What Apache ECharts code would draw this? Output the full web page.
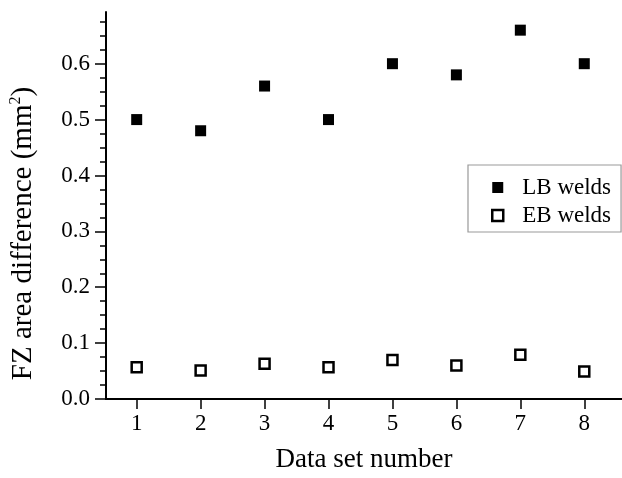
<!DOCTYPE html>
<html>
<head>
<meta charset="utf-8">
<script src="https://cdn.jsdelivr.net/npm/echarts@6/dist/echarts.min.js"></script>
<style>html,body{margin:0;padding:0;background:#fff}#c{width:622px;height:478px}</style>
</head>
<body>
<div id="c"></div>
<script>
var dataSets = [1, 2, 3, 4, 5, 6, 7, 8];
var lbWelds = [0.50, 0.48, 0.56, 0.50, 0.60, 0.58, 0.66, 0.60];
var ebWelds = [0.057, 0.051, 0.063, 0.057, 0.070, 0.060, 0.079, 0.049];
var xTicks = [1, 2, 3, 4, 5, 6, 7, 8];
var yTicks = [0, 0.1, 0.2, 0.3, 0.4, 0.5, 0.6];
var yMinorTicks = [0.025, 0.05, 0.075, 0.125, 0.15, 0.175, 0.225, 0.25, 0.275, 0.325, 0.35, 0.375, 0.425, 0.45, 0.475, 0.525, 0.55, 0.575, 0.625, 0.65, 0.675];

var font = 'Liberation Serif';
var chart = echarts.init(document.getElementById('c'), null, {renderer: 'canvas'});
var xMin = 0.52, xMax = 8.59, yMin = 0, yMax = 0.6925;
chart.setOption({
  animation: false,
  backgroundColor: '#fff',
  grid: {left: 104, top: 12, right: 0, bottom: 77},
  xAxis: [{
    type: 'value', min: xMin, max: xMax, position: 'bottom',
    name: 'Data set number', nameLocation: 'middle', nameGap: 47,
    nameTextStyle: {fontFamily: font, fontSize: 27, color: '#000'},
    axisLine: {show: true, lineStyle: {color: '#000', width: 2}},
    axisTick: {show: true, inside: false, length: 10, customValues: xTicks, lineStyle: {color: '#000', width: 1.5}},
    axisLabel: {customValues: xTicks, margin: 13, fontFamily: font, fontSize: 23, color: '#000'},
    splitLine: {show: false}
  }, {
    type: 'value', min: xMin, max: xMax, position: 'top',
    axisLine: {show: true, lineStyle: {color: '#000', width: 2}},
    axisTick: {show: false}, axisLabel: {show: false}, splitLine: {show: false}
  }],
  yAxis: [{
    type: 'value', min: yMin, max: yMax, position: 'left',
    name: 'FZ area difference (mm{sup|2})', nameLocation: 'middle', nameGap: 68, nameRotate: 90,
    nameTextStyle: {fontFamily: font, fontSize: 29, color: '#000', padding: [0, 56, 0, 0],
      rich: {sup: {fontFamily: font, fontSize: 16, color: '#000', verticalAlign: 'top', padding: [0, 0, 14, 0]}}},
    axisLine: {show: true, lineStyle: {color: '#000', width: 2}},
    axisTick: {show: true, length: 11, customValues: yTicks, lineStyle: {color: '#000', width: 1.5}},
    axisLabel: {customValues: yTicks, margin: 16, fontFamily: font, fontSize: 23, color: '#000',
      formatter: function (v) { return v.toFixed(1); }},
    splitLine: {show: false}
  }, {
    type: 'value', min: yMin, max: yMax, position: 'left',
    axisLine: {show: false},
    axisTick: {show: true, length: 6, customValues: yMinorTicks, lineStyle: {color: '#000', width: 1.5}},
    axisLabel: {show: false}, splitLine: {show: false}
  }],
  legend: {
    orient: 'vertical', left: 468, top: 165,
    padding: [11, 10, 5, 23], itemGap: 5,
    itemWidth: 11, itemHeight: 11,
    borderColor: '#999', borderWidth: 1.2,
    textStyle: {fontFamily: font, fontSize: 23, color: '#000', padding: [0, 0, 0, 14]},
    data: [
      {name: 'LB welds', icon: 'rect', itemStyle: {color: '#000'}},
      {name: 'EB welds', icon: 'rect', itemStyle: {color: '#fff', borderColor: '#000', borderWidth: 2.5}}
    ]
  },
  series: [{
    name: 'LB welds', type: 'scatter', symbol: 'rect', symbolSize: 11,
    itemStyle: {color: '#000', opacity: 1},
    data: dataSets.map(function (x, i) { return [x, lbWelds[i]]; })
  }, {
    name: 'EB welds', type: 'scatter', symbol: 'rect', symbolSize: 10,
    itemStyle: {color: '#fff', borderColor: '#000', borderWidth: 2.5, opacity: 1},
    data: dataSets.map(function (x, i) { return [x, ebWelds[i]]; })
  }]
});
</script>
</body>
</html>
